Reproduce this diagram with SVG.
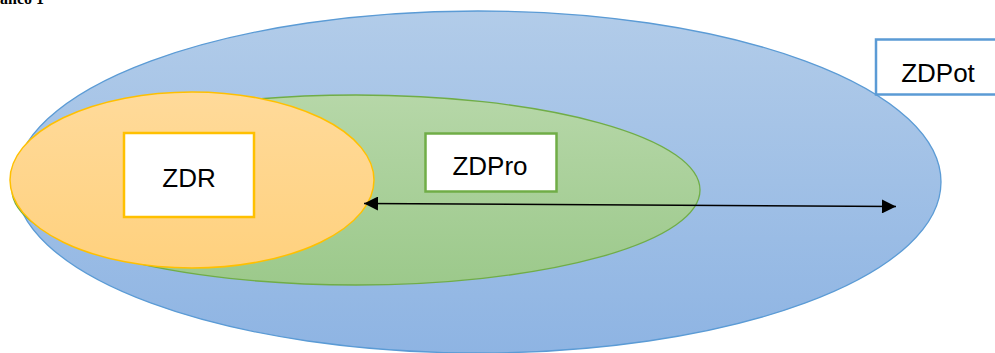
<svg xmlns="http://www.w3.org/2000/svg" width="995" height="353" viewBox="0 0 995 353">
<defs>
<linearGradient id="gBlue" x1="0" y1="0" x2="0" y2="1"><stop offset="0" stop-color="#B2CCE9"/><stop offset="1" stop-color="#8EB4E3"/></linearGradient>
<linearGradient id="gGreen" x1="0" y1="0" x2="0" y2="1"><stop offset="0" stop-color="#B6D7A8"/><stop offset="1" stop-color="#9CC98B"/></linearGradient>
<linearGradient id="gOrange" x1="0" y1="0" x2="0" y2="1"><stop offset="0" stop-color="#FFDA9A"/><stop offset="1" stop-color="#FFD17E"/></linearGradient>
<marker id="arr" viewBox="0 0 10 10" refX="10" refY="5" markerWidth="15" markerHeight="14" markerUnits="userSpaceOnUse" orient="auto-start-reverse"><path d="M0,0 L10,5 L0,10 Z" fill="#000"/></marker>
</defs>
<style>
.lbl{font-family:"Liberation Sans","Open Sans",sans-serif;font-size:26px;fill:#000;text-anchor:middle}
.box{fill:#fff;stroke-width:2.5}
</style>
<text x="0" y="4" style="font-family:'Liberation Serif',serif;font-size:16px;font-weight:bold;fill:#000">anco 1</text>
<g id="zdpot-area"><ellipse cx="478" cy="182" rx="463" ry="171" fill="url(#gBlue)" stroke="#5B9BD5" stroke-width="1.3"/></g>
<g id="zdpro-area"><ellipse cx="356" cy="190" rx="344" ry="95" fill="url(#gGreen)" stroke="#70AD47" stroke-width="1.3"/></g>
<g id="zdr-area"><ellipse cx="192" cy="180" rx="182" ry="88" fill="url(#gOrange)" stroke="#FFC000" stroke-width="1.5"/></g>
<g id="zdr"><rect class="box" x="124" y="133" width="130" height="84" stroke="#FFC000"/><text class="lbl" x="189" y="187">ZDR</text></g>
<g id="zdpro"><rect class="box" x="425.5" y="133.5" width="131" height="58" stroke="#70AD47"/><text class="lbl" x="490" y="175">ZDPro</text></g>
<g id="zdpot"><rect class="box" x="876" y="39.5" width="125" height="55" stroke="#5B9BD5"/><text class="lbl" x="938" y="82">ZDPot</text></g>
<g id="connectors"><line x1="364" y1="203.5" x2="896" y2="206.5" stroke="#000" stroke-width="1.5" marker-start="url(#arr)" marker-end="url(#arr)"/></g>
</svg>
